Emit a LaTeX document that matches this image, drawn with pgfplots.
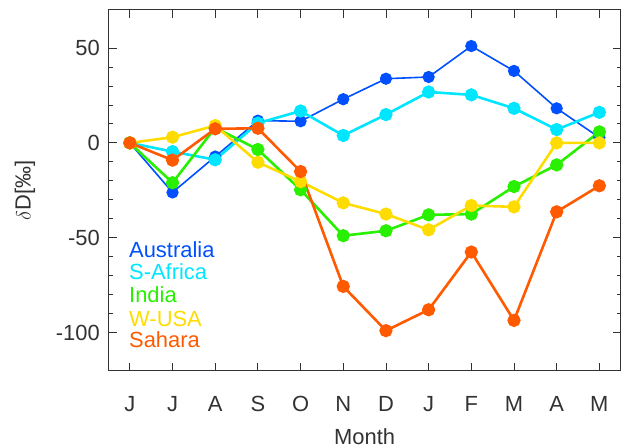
\documentclass[border=0pt]{standalone}
\usepackage{fontspec}
\setmainfont{Liberation Sans}
\usepackage{pgfplots}
\pgfplotsset{compat=1.18}
\definecolor{aus}{RGB}{0,80,255}
\definecolor{saf}{RGB}{0,230,255}
\definecolor{ind}{RGB}{40,240,0}
\definecolor{usa}{RGB}{255,220,0}
\definecolor{sah}{RGB}{255,90,0}
\definecolor{ink}{RGB}{50,50,50}
\begin{document}
\begin{tikzpicture}[x=1bp,y=1bp]
\useasboundingbox (0,0) rectangle (631,448);
\begin{axis}[
  at={(108.5bp,77.3bp)}, anchor=south west,
  scale only axis, width=512.2bp, height=360.7bp,
  xmin=-0.5, xmax=11.5, ymin=-120, ymax=70,
  xtick={0,...,11},
  xticklabels={J,J,A,S,O,N,D,J,F,M,A,M},
  ytick={-100,-50,0,50},
  minor y tick num=4,
  major tick length=8bp, minor tick length=4bp,
  tick style={ink, line width=0.8bp},
  axis line style={ink, line width=1bp},
  tick align=inside,
  /pgf/number format/assume math mode=true,
  ticklabel style={font=\fontsize{22}{26}\selectfont, text=ink},
  xticklabel style={anchor=base, yshift=-41bp},
  yticklabel style={anchor=east, inner sep=0pt, xshift=-8.5bp},
  xlabel={Month},
  ylabel={$\delta$D[‰]},
  label style={font=\fontsize{22}{26}\selectfont, text=ink, inner sep=0pt},
  xlabel style={at={(rel axis cs:0.5,0)}, anchor=base, yshift=-73.5bp},
  ylabel style={at={(axis description cs:-0.163,0.5)}, anchor=center},
  every axis plot/.append style={mark=*, mark size=5.3bp},
]
\addplot[aus, line width=1.6bp, mark options={fill=aus, draw=aus}] coordinates {
(0,0) (1,-26.1) (2,-7.2) (3,11.7) (4,11.4) (5,23) (6,33.8) (7,34.7) (8,51) (9,37.9) (10,18.2) (11,2.8)};
\addplot[saf, line width=2.6bp, mark options={fill=saf, draw=saf}] coordinates {
(0,0) (1,-4.6) (2,-8.9) (3,10.4) (4,16.8) (5,3.9) (6,14.9) (7,26.8) (8,25.3) (9,18.2) (10,7) (11,16.1)};
\addplot[ind, line width=2.6bp, mark options={fill=ind, draw=ind}] coordinates {
(0,0) (1,-21) (2,8) (3,-3.5) (4,-24.7) (5,-48.9) (6,-46.3) (7,-37.9) (8,-37.5) (9,-23) (10,-11.6) (11,5.8)};
\addplot[usa, line width=2.6bp, mark options={fill=usa, draw=usa}] coordinates {
(0,0) (1,3) (2,9.1) (3,-10.2) (4,-20.4) (5,-31.6) (6,-37.5) (7,-45.8) (8,-33) (9,-33.7) (10,0) (11,0)};
\addplot[sah, line width=2.6bp, mark options={fill=sah, draw=sah}] coordinates {
(0,0) (1,-9.1) (2,7.4) (3,7.7) (4,-15.1) (5,-75.6) (6,-98.9) (7,-87.9) (8,-57.5) (9,-93.5) (10,-36.3) (11,-22.6)};
\begin{scope}[every node/.style={anchor=base west, inner sep=0pt, font=\fontsize{22}{26}\selectfont}]
\node[text=aus] at (axis cs:-0.02,-60.2) {Australia};
\node[text=saf] at (axis cs:-0.02,-72.1) {S-Africa};
\node[text=ind] at (axis cs:-0.02,-84.2) {India};
\node[text=usa] at (axis cs:-0.02,-96.7) {W-USA};
\node[text=sah] at (axis cs:-0.02,-107.9) {Sahara};
\end{scope}
\end{axis}
\end{tikzpicture}
\end{document}
